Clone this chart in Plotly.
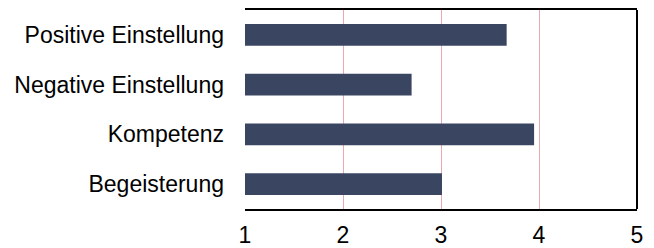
import plotly.graph_objects as go

categories = ["Positive Einstellung", "Negative Einstellung", "Kompetenz", "Begeisterung"]
values = [3.67, 2.70, 3.95, 3.01]
tick_vals = [1, 2, 3, 4, 5]
tick_text = ["1", "2", "3", "4", "5"]

fig = go.Figure(go.Bar(
    y=categories, x=[v - 1 for v in values], base=1, orientation="h",
    marker=dict(color="#3a4661", line=dict(width=0)),
    width=0.44,
))

fig.update_layout(
    width=654, height=248,
    margin=dict(l=245, r=17, t=10, b=39, autoexpand=False),
    paper_bgcolor="white", plot_bgcolor="white",
    font=dict(family="Liberation Sans, Arial, sans-serif", size=23, color="black"),
    showlegend=False,
    bargap=0.56,
    shapes=[dict(type="line", xref="paper", yref="paper", x0=1, x1=1, y0=0, y1=1,
                 line=dict(color="black", width=2))],
)
fig.update_xaxes(
    range=[1, 5], tickvals=tick_vals, ticktext=tick_text,
    tickfont=dict(size=23, color="black"),
    showgrid=True, gridcolor="#eaa8b2", gridwidth=1,
    showline=True, linecolor="black", linewidth=2, mirror=True,
    ticks="", zeroline=False, fixedrange=True, automargin=False,
    ticklabelstandoff=4,
)
fig.update_yaxes(
    autorange="reversed", showgrid=False, showline=False, ticks="",
    tickfont=dict(size=23, color="black"),
    ticklabelstandoff=20, fixedrange=True, automargin=False,
)

fig.write_html("out.html", config={"displayModeBar": False},
               post_script="document.body.style.margin='0';document.body.style.overflow='hidden';")
